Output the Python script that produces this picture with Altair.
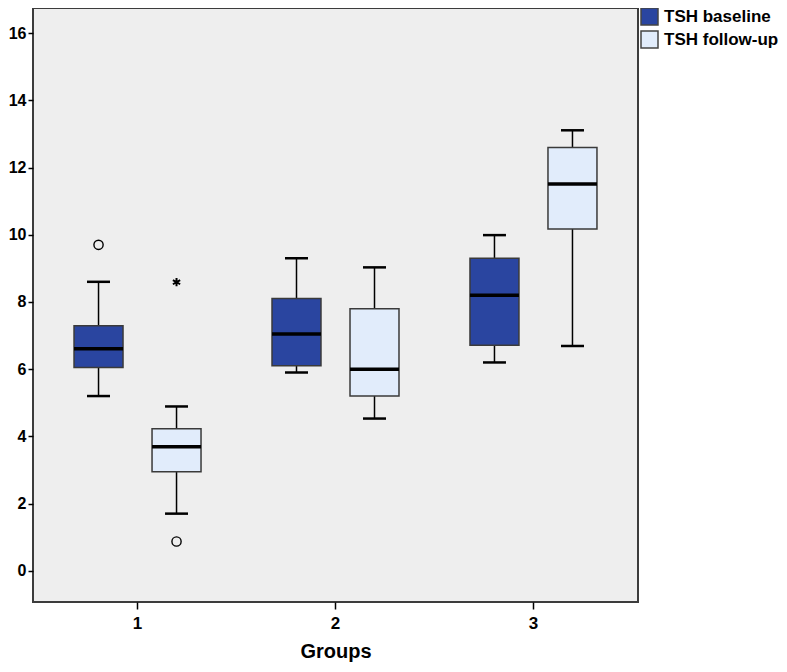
import altair as alt
import pandas as pd

groups = ["1", "2", "3"]
series = ["TSH baseline", "TSH follow-up"]
colors = ["#2a45a0", "#e1ecfb"]

# baseline box statistics per group
low_baseline = [5.20, 5.90, 6.20]
q1_baseline = [6.05, 6.10, 6.71]
median_baseline = [6.61, 7.05, 8.20]
q3_baseline = [7.29, 8.10, 9.30]
high_baseline = [8.60, 9.30, 9.99]

# follow-up box statistics per group
low_followup = [1.70, 4.53, 6.69]
q1_followup = [2.95, 5.20, 10.17]
median_followup = [3.69, 6.00, 11.51]
q3_followup = [4.23, 7.80, 12.60]
high_followup = [4.89, 9.03, 13.11]

# outliers (circles) and extreme values (asterisks)
outlier_group = ["1", "1"]
outlier_series = ["TSH baseline", "TSH follow-up"]
outlier_value = [9.70, 0.87]
extreme_group = ["1"]
extreme_series = ["TSH follow-up"]
extreme_value = [8.59]

yticks = [0, 2, 4, 6, 8, 10, 12, 14, 16]

rows = []
for i, g in enumerate(groups):
    rows.append(dict(group=g, series=series[0], low=low_baseline[i], q1=q1_baseline[i],
                     median=median_baseline[i], q3=q3_baseline[i], high=high_baseline[i]))
    rows.append(dict(group=g, series=series[1], low=low_followup[i], q1=q1_followup[i],
                     median=median_followup[i], q3=q3_followup[i], high=high_followup[i]))
box_df = pd.DataFrame(rows)
out_df = pd.DataFrame(dict(group=outlier_group, series=outlier_series, value=outlier_value))
ext_df = pd.DataFrame(dict(group=extreme_group, series=extreme_series, value=extreme_value))

FONT = "Liberation Sans"

x_enc = alt.X(
    "group:N",
    sort=groups,
    scale=alt.Scale(domain=groups, paddingInner=0, paddingOuter=0.028),
    axis=alt.Axis(
        title="Groups", labelAngle=0, domain=False, grid=False,
        tickSize=7, tickColor="black", tickWidth=1.5,
        labelFont=FONT, labelFontSize=17, labelFontWeight="bold", labelColor="black",
        labelPadding=6,
        titleFont=FONT, titleFontSize=20, titleFontWeight="bold", titleColor="black",
        titlePadding=10,
    ),
)
xo_enc = alt.XOffset(
    "series:N",
    scale=alt.Scale(domain=series, paddingInner=0.372, paddingOuter=0.455),
)
y_scale = alt.Scale(domain=[-0.93, 16.75], nice=False, zero=False)
y_axis = alt.Axis(
    title=None, values=yticks, domain=False, grid=False,
    tickSize=5, tickColor="black", tickWidth=1.5,
    labelFont=FONT, labelFontSize=16, labelFontWeight="bold", labelColor="black",
    labelPadding=2,
)

base = alt.Chart(box_df)

whiskers = base.mark_rule(color="black", strokeWidth=1.5, opacity=1).encode(
    x=x_enc, xOffset=xo_enc,
    y=alt.Y("low:Q", scale=y_scale, axis=y_axis),
    y2="high:Q",
)

boxes = base.mark_bar(stroke="#3a3a3a", strokeWidth=1.5, opacity=1).encode(
    x=x_enc, xOffset=xo_enc,
    y=alt.Y("q1:Q", scale=y_scale, axis=y_axis),
    y2="q3:Q",
    color=alt.Color(
        "series:N",
        scale=alt.Scale(domain=series, range=colors),
        legend=alt.Legend(
            title=None, orient="none", legendX=607, legendY=-1,
            symbolType="square", symbolSize=289, symbolStrokeColor="#444444",
            symbolStrokeWidth=1.5, symbolOpacity=1,
            labelFont=FONT, labelFontSize=17, labelFontWeight="bold", labelColor="black",
            labelOffset=5, rowPadding=0, labelLimit=300,
        ),
    ),
)

medians = base.mark_tick(color="black", thickness=3.5, size=49, opacity=1).encode(
    x=x_enc, xOffset=xo_enc,
    y=alt.Y("median:Q", scale=y_scale, axis=y_axis),
)

caps_low = base.mark_tick(color="black", thickness=2.5, size=23, opacity=1).encode(
    x=x_enc, xOffset=xo_enc,
    y=alt.Y("low:Q", scale=y_scale, axis=y_axis),
)
caps_high = base.mark_tick(color="black", thickness=2.5, size=23, opacity=1).encode(
    x=x_enc, xOffset=xo_enc,
    y=alt.Y("high:Q", scale=y_scale, axis=y_axis),
)

outliers = alt.Chart(out_df).mark_point(
    shape="circle", filled=False, color="black", size=85, strokeWidth=1.4, opacity=1
).encode(
    x=x_enc, xOffset=xo_enc,
    y=alt.Y("value:Q", scale=y_scale, axis=y_axis),
)

asterisk = "M0,-1L0,1M-0.87,-0.5L0.87,0.5M-0.87,0.5L0.87,-0.5"
extremes = alt.Chart(ext_df).mark_point(
    shape=asterisk, filled=False, color="black", size=70, strokeWidth=2, opacity=1
).encode(
    x=x_enc, xOffset=xo_enc,
    y=alt.Y("value:Q", scale=y_scale, axis=y_axis),
)

chart = alt.layer(
    whiskers, boxes, medians, caps_low, caps_high, outliers, extremes
).properties(
    width=605, height=594,
    autosize=alt.AutoSizeParams(type="none"),
    padding={"left": 25, "top": 0, "right": 141, "bottom": 60},
    background="white",
).configure(font=FONT).configure_view(
    fill="#eeeeee", stroke="#3c3c3c", strokeWidth=2
)

chart.save("out.html", embed_options={"renderer": "svg", "actions": False})
